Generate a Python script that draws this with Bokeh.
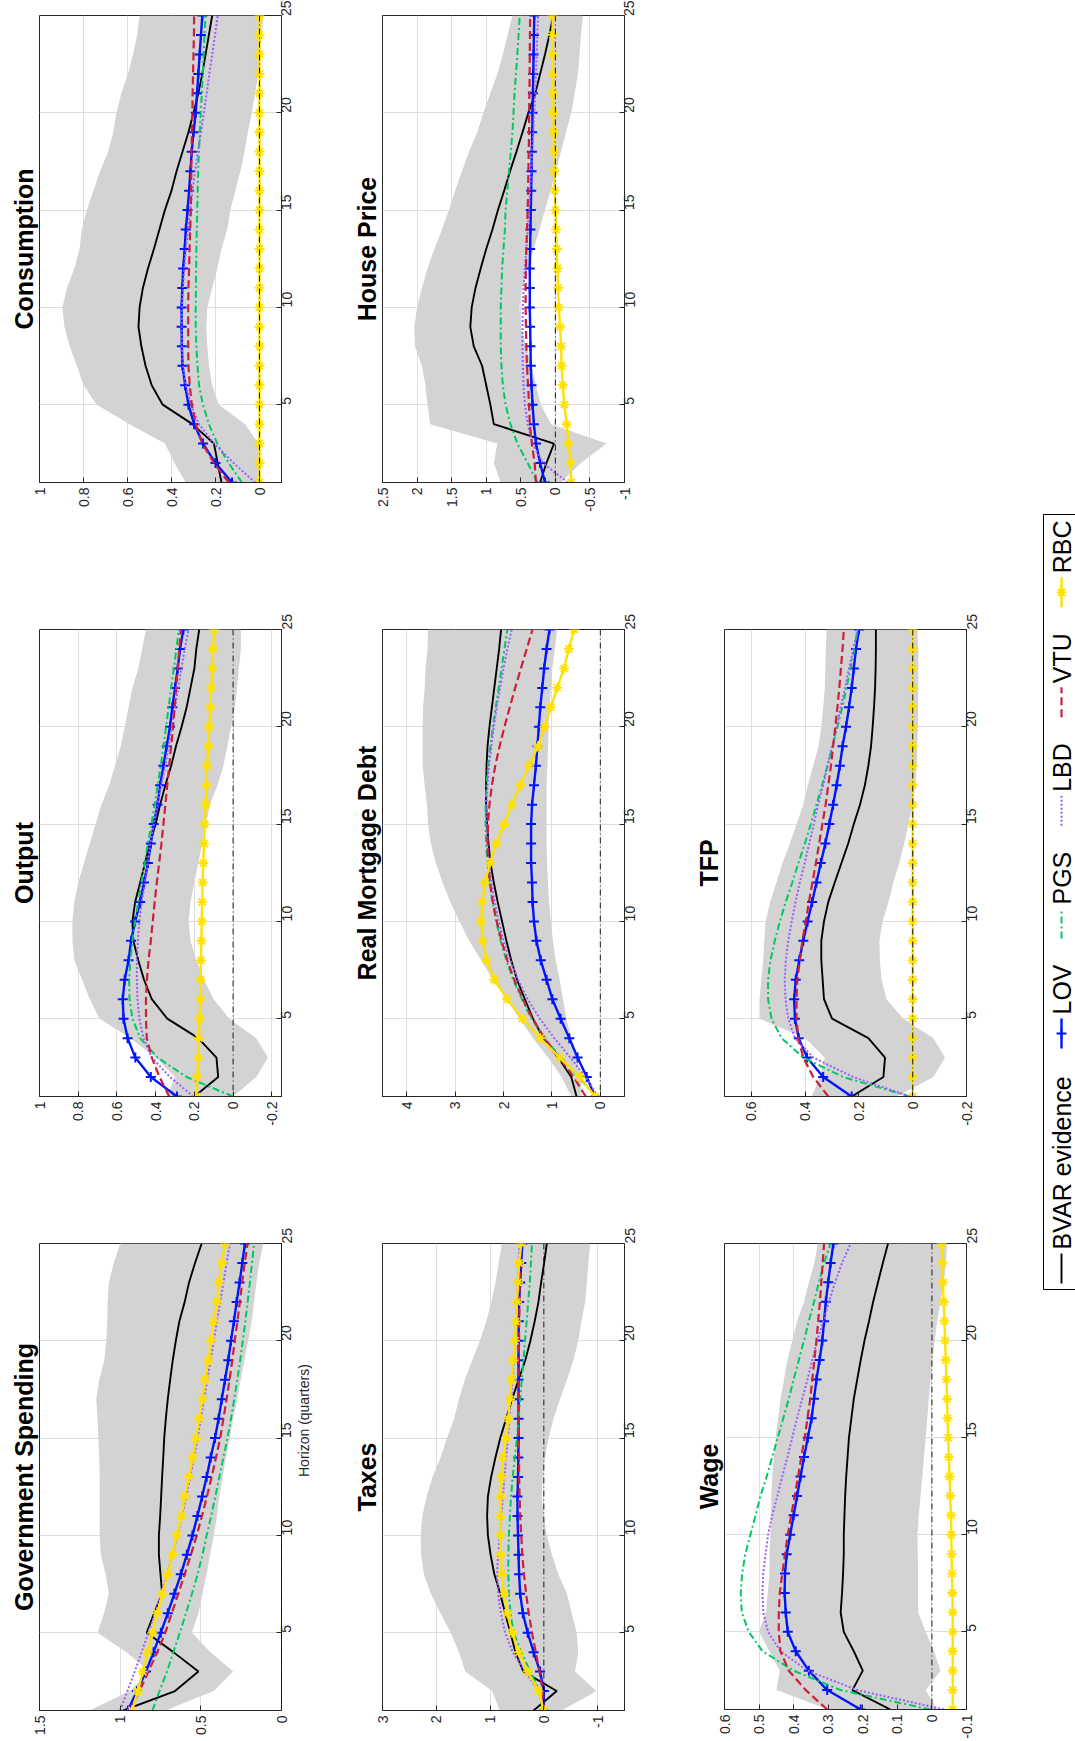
import math
from bokeh.plotting import figure
from bokeh.models import Range1d, FixedTicker, CustomJSTickFormatter, Span, Title, Spacer
from bokeh.layouts import row, column
from bokeh.embed import file_html
from bokeh.resources import INLINE
from bokeh.core.properties import value

# ---------------- data ----------------
H = list(range(1, 26))
h_ticks = [5, 10, 15, 20, 25]
h_labels = ["5", "10", "15", "20", "25"]

series_names = ["BVAR evidence", "LOV", "PGS", "LBD", "VTU", "RBC"]

# Government Spending
gov_bvar = [0.98, 0.66, 0.515, 0.67, 0.835, 0.79, 0.74, 0.75, 0.76, 0.76, 0.752, 0.746, 0.74, 0.733, 0.727, 0.717, 0.705, 0.69, 0.674, 0.655, 0.633, 0.60, 0.573, 0.536, 0.495]
gov_hi = [1.19, 0.94, 0.82, 0.96, 1.14, 1.10, 1.07, 1.09, 1.12, 1.127, 1.127, 1.127, 1.127, 1.13, 1.135, 1.14, 1.148, 1.13, 1.098, 1.086, 1.08, 1.078, 1.07, 1.04, 1.0]
gov_lo = [0.72, 0.42, 0.30, 0.44, 0.556, 0.515, 0.49, 0.464, 0.443, 0.42, 0.40, 0.385, 0.365, 0.344, 0.32, 0.30, 0.274, 0.253, 0.23, 0.206, 0.185, 0.17, 0.155, 0.138, 0.113]
gov_lov = [0.952, 0.896, 0.84, 0.793, 0.748, 0.705, 0.664, 0.624, 0.587, 0.552, 0.521, 0.492, 0.464, 0.439, 0.412, 0.39, 0.37, 0.35, 0.33, 0.313, 0.295, 0.278, 0.26, 0.243, 0.227]
gov_pgs = [0.80, 0.756, 0.71, 0.67, 0.63, 0.592, 0.555, 0.52, 0.49, 0.464, 0.436, 0.41, 0.385, 0.36, 0.335, 0.313, 0.293, 0.274, 0.256, 0.24, 0.224, 0.21, 0.196, 0.183, 0.17]
gov_lbd = [1.0, 0.955, 0.91, 0.867, 0.825, 0.785, 0.747, 0.71, 0.677, 0.645, 0.617, 0.59, 0.565, 0.542, 0.52, 0.5, 0.48, 0.46, 0.44, 0.42, 0.4, 0.38, 0.36, 0.34, 0.32]
gov_vtu = [0.94, 0.88, 0.825, 0.77, 0.72, 0.68, 0.64, 0.6, 0.562, 0.525, 0.493, 0.462, 0.433, 0.406, 0.38, 0.36, 0.34, 0.322, 0.305, 0.29, 0.273, 0.258, 0.244, 0.228, 0.21]
gov_rbc = [0.927, 0.89, 0.86, 0.83, 0.80, 0.77, 0.74, 0.705, 0.676, 0.65, 0.62, 0.6, 0.573, 0.55, 0.53, 0.51, 0.49, 0.474, 0.453, 0.437, 0.42, 0.40, 0.387, 0.37, 0.35]
gov_ticks = [0, 0.5, 1, 1.5]
gov_tick_labels = ["0", "0.5", "1", "1.5"]

# Output
out_bvar = [0.20, 0.077, 0.086, 0.18, 0.34, 0.42, 0.46, 0.49, 0.515, 0.52, 0.506, 0.48, 0.455, 0.43, 0.40, 0.377, 0.35, 0.32, 0.295, 0.266, 0.24, 0.22, 0.20, 0.19, 0.175]
out_hi = [0.34, 0.30, 0.40, 0.53, 0.69, 0.74, 0.78, 0.82, 0.83, 0.83, 0.82, 0.80, 0.77, 0.74, 0.71, 0.68, 0.64, 0.61, 0.58, 0.56, 0.54, 0.52, 0.49, 0.47, 0.45]
out_lo = [0.0, -0.12, -0.18, -0.12, 0.02, 0.1, 0.15, 0.19, 0.22, 0.23, 0.22, 0.2, 0.18, 0.16, 0.14, 0.12, 0.08, 0.05, 0.03, 0.01, -0.01, -0.02, -0.03, -0.04, -0.04]
out_lov = [0.29, 0.425, 0.505, 0.545, 0.566, 0.57, 0.56, 0.54, 0.527, 0.506, 0.48, 0.46, 0.44, 0.425, 0.41, 0.39, 0.377, 0.36, 0.343, 0.326, 0.314, 0.30, 0.286, 0.274, 0.257]
out_pgs = [0.0, 0.24, 0.39, 0.48, 0.52, 0.535, 0.537, 0.53, 0.52, 0.506, 0.49, 0.474, 0.457, 0.44, 0.422, 0.405, 0.389, 0.374, 0.36, 0.346, 0.333, 0.32, 0.306, 0.293, 0.28]
out_lbd = [0.205, 0.326, 0.42, 0.463, 0.484, 0.494, 0.497, 0.497, 0.492, 0.484, 0.472, 0.455, 0.44, 0.428, 0.41, 0.39, 0.372, 0.35, 0.333, 0.317, 0.3, 0.283, 0.267, 0.25, 0.23]
out_vtu = [0.33, 0.38, 0.42, 0.446, 0.45, 0.45, 0.445, 0.437, 0.425, 0.415, 0.405, 0.394, 0.382, 0.37, 0.36, 0.35, 0.34, 0.33, 0.32, 0.31, 0.302, 0.294, 0.286, 0.278, 0.27]
out_rbc = [0.19, 0.185, 0.18, 0.177, 0.173, 0.17, 0.168, 0.166, 0.164, 0.162, 0.16, 0.157, 0.154, 0.15, 0.146, 0.142, 0.138, 0.134, 0.128, 0.123, 0.118, 0.113, 0.108, 0.103, 0.098]
out_ticks = [-0.2, 0, 0.2, 0.4, 0.6, 0.8, 1]
out_tick_labels = ["-0.2", "0", "0.2", "0.4", "0.6", "0.8", "1"]

# Consumption
con_bvar = [0.173, 0.19, 0.207, 0.305, 0.44, 0.49, 0.518, 0.537, 0.55, 0.545, 0.53, 0.507, 0.48, 0.455, 0.43, 0.40, 0.377, 0.35, 0.323, 0.30, 0.278, 0.26, 0.245, 0.23, 0.215]
con_hi = [0.335, 0.387, 0.43, 0.59, 0.74, 0.80, 0.83, 0.863, 0.887, 0.896, 0.875, 0.842, 0.818, 0.808, 0.785, 0.755, 0.725, 0.688, 0.665, 0.65, 0.628, 0.598, 0.575, 0.556, 0.545]
con_lo = [0.005, -0.01, 0.005, 0.065, 0.185, 0.215, 0.23, 0.237, 0.242, 0.237, 0.215, 0.192, 0.173, 0.147, 0.132, 0.11, 0.087, 0.068, 0.053, 0.035, 0.02, 0.005, -0.003, -0.01, -0.018]
con_lov = [0.125, 0.2, 0.257, 0.297, 0.323, 0.338, 0.35, 0.353, 0.354, 0.354, 0.351, 0.347, 0.34, 0.335, 0.327, 0.32, 0.314, 0.308, 0.3, 0.29, 0.284, 0.278, 0.272, 0.266, 0.26]
con_pgs = [0.08, 0.14, 0.192, 0.23, 0.257, 0.275, 0.282, 0.287, 0.29, 0.29, 0.289, 0.288, 0.287, 0.285, 0.283, 0.281, 0.279, 0.275, 0.271, 0.267, 0.262, 0.258, 0.254, 0.25, 0.245]
con_lbd = [0.02, 0.117, 0.207, 0.275, 0.312, 0.335, 0.347, 0.353, 0.354, 0.353, 0.348, 0.342, 0.335, 0.325, 0.315, 0.304, 0.293, 0.28, 0.266, 0.253, 0.24, 0.228, 0.215, 0.202, 0.19]
con_vtu = [0.14, 0.207, 0.26, 0.29, 0.308, 0.317, 0.323, 0.324, 0.324, 0.324, 0.323, 0.32, 0.318, 0.315, 0.312, 0.311, 0.31, 0.309, 0.307, 0.305, 0.304, 0.302, 0.3, 0.298, 0.297]
con_rbc = [0.0, 0.0, 0.0, 0.0, 0.0, 0.0, 0.0, 0.0, 0.0, 0.0, 0.0, 0.0, 0.0, 0.0, 0.0, 0.0, 0.0, 0.0, 0.0, 0.0, 0.0, 0.0, 0.0, 0.0, 0.0]
con_ticks = [0, 0.2, 0.4, 0.6, 0.8, 1]
con_tick_labels = ["0", "0.2", "0.4", "0.6", "0.8", "1"]

# Taxes
tax_bvar = [0.19, -0.24, 0.38, 0.53, 0.62, 0.72, 0.81, 0.92, 0.99, 1.04, 1.055, 1.04, 0.98, 0.9, 0.81, 0.7, 0.59, 0.47, 0.345, 0.25, 0.17, 0.1, 0.05, -0.006, -0.055]
tax_hi = [0.82, 0.96, 1.46, 1.58, 1.73, 1.92, 2.1, 2.23, 2.28, 2.29, 2.26, 2.18, 2.07, 1.92, 1.8, 1.67, 1.58, 1.47, 1.33, 1.19, 1.07, 0.975, 0.9, 0.84, 0.78]
tax_lo = [-0.33, -0.98, -0.58, -0.64, -0.61, -0.52, -0.43, -0.27, -0.15, -0.056, 0.0, 0.04, 0.02, -0.02, -0.09, -0.18, -0.3, -0.43, -0.55, -0.64, -0.7, -0.77, -0.8, -0.83, -0.86]
tax_lov = [0.0, 0.0, 0.07, 0.19, 0.3, 0.39, 0.44, 0.46, 0.47, 0.48, 0.49, 0.49, 0.48, 0.475, 0.47, 0.47, 0.47, 0.47, 0.47, 0.47, 0.465, 0.46, 0.44, 0.42, 0.40]
tax_pgs = [0.02, 0.08, 0.25, 0.42, 0.56, 0.62, 0.65, 0.66, 0.66, 0.65, 0.63, 0.61, 0.58, 0.54, 0.5, 0.47, 0.44, 0.41, 0.38, 0.35, 0.32, 0.29, 0.26, 0.24, 0.22]
tax_lbd = [0.0, 0.1, 0.35, 0.58, 0.72, 0.8, 0.85, 0.87, 0.85, 0.82, 0.79, 0.76, 0.73, 0.7, 0.67, 0.64, 0.61, 0.58, 0.56, 0.54, 0.52, 0.5, 0.48, 0.47, 0.45]
tax_vtu = [0.0, 0.02, 0.08, 0.15, 0.22, 0.28, 0.33, 0.37, 0.4, 0.42, 0.44, 0.45, 0.46, 0.46, 0.47, 0.47, 0.47, 0.47, 0.47, 0.46, 0.46, 0.45, 0.45, 0.44, 0.43]
tax_rbc = [0.0, 0.1, 0.3, 0.46, 0.59, 0.68, 0.74, 0.78, 0.8, 0.81, 0.81, 0.8, 0.79, 0.76, 0.7, 0.66, 0.63, 0.6, 0.57, 0.54, 0.52, 0.5, 0.48, 0.46, 0.42]
tax_ticks = [-1, 0, 1, 2, 3]
tax_tick_labels = ["-1", "0", "1", "2", "3"]

# Real Mortgage Debt
rmd_bvar = [0.49, 0.6, 0.87, 1.18, 1.39, 1.56, 1.72, 1.84, 1.94, 2.03, 2.12, 2.2, 2.27, 2.31, 2.34, 2.36, 2.36, 2.35, 2.33, 2.29, 2.24, 2.19, 2.14, 2.09, 2.05]
rmd_hi = [0.6, 0.8, 1.08, 1.39, 1.67, 1.94, 2.22, 2.46, 2.71, 2.91, 3.1, 3.26, 3.4, 3.5, 3.56, 3.58, 3.63, 3.67, 3.67, 3.67, 3.66, 3.63, 3.61, 3.57, 3.56]
rmd_lo = [0.39, 0.39, 0.49, 0.6, 0.7, 0.77, 0.84, 0.92, 0.98, 1.02, 1.06, 1.08, 1.1, 1.11, 1.11, 1.11, 1.11, 1.09, 1.08, 1.07, 1.05, 1.02, 0.99, 0.94, 0.89]
rmd_lov = [0.11, 0.28, 0.47, 0.64, 0.82, 0.99, 1.11, 1.23, 1.32, 1.37, 1.4, 1.41, 1.43, 1.43, 1.43, 1.41, 1.37, 1.33, 1.3, 1.27, 1.24, 1.2, 1.16, 1.11, 1.05]
rmd_pgs = [0.1, 0.45, 0.82, 1.15, 1.42, 1.62, 1.8, 1.94, 2.06, 2.15, 2.23, 2.29, 2.33, 2.36, 2.37, 2.37, 2.35, 2.32, 2.27, 2.22, 2.16, 2.1, 2.04, 1.98, 1.92]
rmd_lbd = [0.05, 0.3, 0.62, 0.95, 1.25, 1.5, 1.7, 1.86, 2.0, 2.1, 2.18, 2.25, 2.3, 2.33, 2.35, 2.35, 2.33, 2.3, 2.25, 2.2, 2.14, 2.07, 2.0, 1.92, 1.83]
rmd_vtu = [0.3, 0.55, 0.85, 1.15, 1.4, 1.6, 1.78, 1.92, 2.04, 2.14, 2.22, 2.28, 2.32, 2.33, 2.32, 2.29, 2.24, 2.17, 2.08, 1.98, 1.87, 1.76, 1.64, 1.52, 1.4]
rmd_rbc = [0.11, 0.42, 0.84, 1.24, 1.61, 1.92, 2.19, 2.35, 2.43, 2.46, 2.44, 2.38, 2.28, 2.15, 1.99, 1.83, 1.65, 1.47, 1.29, 1.15, 1.02, 0.89, 0.75, 0.65, 0.54]
rmd_ticks = [0, 1, 2, 3, 4]
rmd_tick_labels = ["0", "1", "2", "3", "4"]

# House Price
hp_bvar = [0.22, 0.13, 0.02, 0.89, 0.94, 1.0, 1.06, 1.18, 1.23, 1.21, 1.155, 1.08, 1.0, 0.91, 0.83, 0.74, 0.655, 0.563, 0.475, 0.39, 0.29, 0.22, 0.15, 0.087, 0.03]
hp_hi = [0.79, 0.89, 0.84, 1.81, 1.85, 1.88, 1.93, 2.03, 2.04, 2.0, 1.93, 1.85, 1.75, 1.64, 1.54, 1.45, 1.35, 1.25, 1.13, 1.04, 0.94, 0.84, 0.76, 0.69, 0.62]
hp_lo = [-0.08, -0.37, -0.74, 0.06, 0.21, 0.28, 0.345, 0.42, 0.5, 0.52, 0.48, 0.4, 0.315, 0.23, 0.15, 0.07, -0.01, -0.08, -0.155, -0.23, -0.28, -0.325, -0.35, -0.37, -0.4]
hp_lov = [0.15, 0.22, 0.28, 0.31, 0.33, 0.345, 0.355, 0.36, 0.365, 0.37, 0.37, 0.37, 0.365, 0.36, 0.355, 0.35, 0.345, 0.34, 0.335, 0.33, 0.325, 0.32, 0.315, 0.31, 0.305]
hp_pgs = [0.26, 0.4, 0.55, 0.65, 0.72, 0.76, 0.78, 0.79, 0.79, 0.79, 0.78, 0.77, 0.75, 0.73, 0.72, 0.695, 0.67, 0.645, 0.62, 0.605, 0.59, 0.57, 0.55, 0.532, 0.515]
hp_lbd = [-0.18, 0.18, 0.33, 0.4, 0.44, 0.46, 0.47, 0.475, 0.475, 0.47, 0.46, 0.44, 0.42, 0.4, 0.38, 0.365, 0.35, 0.335, 0.32, 0.305, 0.29, 0.28, 0.27, 0.26, 0.25]
hp_vtu = [0.28, 0.3, 0.34, 0.37, 0.38, 0.395, 0.41, 0.42, 0.425, 0.43, 0.43, 0.425, 0.42, 0.41, 0.4, 0.395, 0.39, 0.385, 0.38, 0.38, 0.375, 0.372, 0.37, 0.367, 0.365]
hp_rbc = [-0.23, -0.22, -0.19, -0.165, -0.13, -0.107, -0.09, -0.083, -0.068, -0.05, -0.04, -0.03, -0.02, -0.01, 0.0, 0.01, 0.015, 0.02, 0.025, 0.028, 0.031, 0.034, 0.036, 0.038, 0.04]
hp_ticks = [-1, -0.5, 0, 0.5, 1, 1.5, 2, 2.5]
hp_tick_labels = ["-1", "-0.5", "0", "0.5", "1", "1.5", "2", "2.5"]

# Wage
wage_bvar = [0.12, 0.23, 0.2, 0.226, 0.255, 0.264, 0.26, 0.257, 0.255, 0.255, 0.253, 0.251, 0.248, 0.244, 0.24, 0.233, 0.226, 0.216, 0.206, 0.195, 0.182, 0.17, 0.156, 0.142, 0.127]
wage_hi = [0.3, 0.45, 0.44, 0.47, 0.5, 0.48, 0.475, 0.47, 0.47, 0.467, 0.466, 0.465, 0.462, 0.457, 0.452, 0.445, 0.438, 0.428, 0.418, 0.404, 0.39, 0.37, 0.356, 0.34, 0.33]
wage_lo = [-0.015, 0.018, -0.025, -0.006, 0.018, 0.04, 0.04, 0.04, 0.041, 0.042, 0.038, 0.033, 0.028, 0.023, 0.018, 0.0135, 0.009, 0.004, -0.002, -0.008, -0.015, -0.025, -0.035, -0.04, -0.044]
wage_lov = [0.206, 0.303, 0.356, 0.394, 0.417, 0.423, 0.426, 0.425, 0.42, 0.41, 0.4, 0.39, 0.38, 0.37, 0.359, 0.348, 0.341, 0.334, 0.325, 0.317, 0.312, 0.307, 0.3, 0.293, 0.285]
wage_pgs = [0.004, 0.264, 0.4, 0.49, 0.53, 0.55, 0.553, 0.549, 0.54, 0.525, 0.51, 0.496, 0.478, 0.462, 0.446, 0.43, 0.414, 0.4, 0.385, 0.37, 0.356, 0.341, 0.327, 0.312, 0.293]
wage_lbd = [-0.035, 0.216, 0.36, 0.438, 0.474, 0.488, 0.49, 0.488, 0.481, 0.474, 0.462, 0.447, 0.433, 0.418, 0.404, 0.39, 0.375, 0.36, 0.346, 0.332, 0.314, 0.298, 0.28, 0.26, 0.235]
wage_vtu = [0.303, 0.365, 0.414, 0.438, 0.443, 0.443, 0.44, 0.433, 0.425, 0.417, 0.407, 0.397, 0.387, 0.378, 0.368, 0.36, 0.352, 0.346, 0.34, 0.334, 0.329, 0.324, 0.32, 0.316, 0.312]
wage_rbc = [-0.06, -0.06, -0.06, -0.06, -0.06, -0.06, -0.059, -0.058, -0.057, -0.056, -0.055, -0.053, -0.051, -0.049, -0.047, -0.045, -0.044, -0.042, -0.04, -0.038, -0.036, -0.034, -0.032, -0.03, -0.028]
wage_ticks = [-0.1, 0, 0.1, 0.2, 0.3, 0.4, 0.5, 0.6]
wage_tick_labels = ["-0.1", "0", "0.1", "0.2", "0.3", "0.4", "0.5", "0.6"]

# TFP
tfp_bvar = [0.227, 0.109, 0.103, 0.165, 0.3, 0.33, 0.335, 0.34, 0.34, 0.33, 0.314, 0.29, 0.265, 0.24, 0.219, 0.196, 0.178, 0.165, 0.155, 0.149, 0.144, 0.14, 0.138, 0.137, 0.137]
tfp_hi = [0.376, 0.345, 0.327, 0.4, 0.57, 0.57, 0.563, 0.556, 0.552, 0.547, 0.53, 0.507, 0.484, 0.457, 0.432, 0.407, 0.39, 0.37, 0.35, 0.34, 0.333, 0.327, 0.325, 0.323, 0.32]
tfp_lo = [0.06, -0.077, -0.12, -0.077, 0.035, 0.097, 0.116, 0.122, 0.124, 0.112, 0.09, 0.072, 0.05, 0.032, 0.016, 0.0, -0.009, -0.015, -0.017, -0.019, -0.02, -0.021, -0.021, -0.021, -0.017]
tfp_lov = [0.227, 0.333, 0.393, 0.424, 0.438, 0.441, 0.435, 0.422, 0.407, 0.391, 0.374, 0.358, 0.342, 0.325, 0.31, 0.296, 0.283, 0.271, 0.261, 0.248, 0.237, 0.227, 0.219, 0.211, 0.2]
tfp_pgs = [0.01, 0.258, 0.407, 0.488, 0.525, 0.538, 0.538, 0.529, 0.513, 0.494, 0.472, 0.448, 0.425, 0.401, 0.379, 0.358, 0.337, 0.317, 0.298, 0.28, 0.262, 0.246, 0.231, 0.217, 0.205]
tfp_lbd = [0.01, 0.221, 0.37, 0.438, 0.463, 0.473, 0.476, 0.472, 0.463, 0.45, 0.436, 0.42, 0.402, 0.385, 0.368, 0.352, 0.333, 0.317, 0.3, 0.283, 0.268, 0.252, 0.237, 0.221, 0.205]
tfp_vtu = [0.314, 0.37, 0.407, 0.426, 0.432, 0.432, 0.429, 0.42, 0.41, 0.398, 0.386, 0.373, 0.36, 0.348, 0.336, 0.324, 0.314, 0.304, 0.296, 0.288, 0.28, 0.273, 0.267, 0.261, 0.256]
tfp_rbc = [0.0, 0.0, 0.0, 0.0, 0.0, 0.0, 0.0, 0.0, 0.0, 0.0, 0.0, 0.0, 0.0, 0.0, 0.0, 0.0, 0.0, 0.0, 0.0, 0.0, 0.0, 0.0, 0.0, 0.0, 0.0]
tfp_ticks = [-0.2, 0, 0.2, 0.4, 0.6]
tfp_tick_labels = ["-0.2", "0", "0.2", "0.4", "0.6"]

# ---------------- styles ----------------
FONT = "Liberation Sans"
AX = "#262626"
BAND = "#D3D3D3"
C_BVAR = "#000000"
C_LOV = "#0014FF"
C_PGS = "#00C864"
C_LBD = "#9B5CFF"
C_VTU = "#CC1F3A"
C_RBC = "#FFE100"
D_PGS = "7 3 2 3"
D_LBD = "2 2"
D_VTU = "8 4"
D_ZERO = "6 3 1 3"
TICK_FS = "14px"


def fmt(ticks, labels):
    return CustomJSTickFormatter(args=dict(t=ticks, l=labels), code="""
        for (let i = 0; i < t.length; i++) { if (Math.abs(t[i] - tick) < 1e-9) return l[i]; }
        return "";
    """)


def panel(title, vrange, vticks, vlabels, lo, hi, bvar, lov, pgs, lbd, vtu, rbc,
          width, height, bl, br, bt, bb, hlabel=None):
    p = figure(width=width, height=height, x_range=Range1d(vrange[1], vrange[0]),
               y_range=Range1d(1, 25), x_axis_location="below", y_axis_location="right",
               toolbar_location=None, output_backend="svg", title=None,
               min_border_left=bl, min_border_right=br, min_border_top=bt, min_border_bottom=bb)
    p.background_fill_color = "white"
    p.border_fill_color = "white"
    p.outline_line_color = AX
    p.outline_line_width = 1

    xt = FixedTicker(ticks=vticks)
    yt = FixedTicker(ticks=h_ticks)
    p.xaxis.ticker = xt
    p.yaxis.ticker = yt
    p.xgrid.ticker = xt
    p.ygrid.ticker = yt
    p.xaxis.formatter = fmt(vticks, vlabels)
    p.yaxis.formatter = fmt(h_ticks, h_labels)
    for ax in (p.xaxis[0], p.yaxis[0]):
        ax.major_label_orientation = math.pi / 2
        ax.major_label_text_font = FONT
        ax.major_label_text_font_size = TICK_FS
        ax.major_label_text_color = AX
        ax.major_tick_in = 5
        ax.major_tick_out = 0
        ax.minor_tick_line_color = None
        ax.axis_line_color = AX
        ax.major_tick_line_color = AX
        ax.major_label_standoff = 5
    for g in (p.xgrid[0], p.ygrid[0]):
        g.grid_line_color = "#DEDEDE"
        g.grid_line_width = 1
    if hlabel:
        p.yaxis.axis_label = hlabel
        p.yaxis.axis_label_text_font = FONT
        p.yaxis.axis_label_text_font_size = "14px"
        p.yaxis.axis_label_text_font_style = "normal"
        p.yaxis.axis_label_text_color = AX
        p.yaxis.axis_label_standoff = 4
        try:
            p.yaxis.axis_label_orientation = math.pi / 2
        except Exception:
            pass

    p.add_layout(Title(text=title, align="center", text_font=FONT, text_font_size="25px",
                       text_font_style="bold", text_color="black", standoff=3), "left")

    p.harea(y=H, x1=lo, x2=hi, fill_color=BAND, fill_alpha=1.0)
    p.add_layout(Span(location=0, dimension="height", line_color="black",
                      line_width=0.9, line_dash=D_ZERO))
    p.line(x=bvar, y=H, line_color=C_BVAR, line_width=1.9)
    p.line(x=lov, y=H, line_color=C_LOV, line_width=2.4)
    p.scatter(x=lov, y=H, marker="cross", size=10, line_color=C_LOV, line_width=2)
    p.line(x=pgs, y=H, line_color=C_PGS, line_width=2, line_dash=D_PGS)
    p.line(x=lbd, y=H, line_color=C_LBD, line_width=2, line_dash=D_LBD)
    p.line(x=vtu, y=H, line_color=C_VTU, line_width=2.2, line_dash=D_VTU)
    p.line(x=rbc, y=H, line_color=C_RBC, line_width=2.4)
    p.scatter(x=rbc, y=H, marker="asterisk", size=10, line_color=C_RBC, line_width=1.8)
    return p


# column 1 (x 0..340), column 2 (340..682), column 3 (682..1030)
W1, W2, W3 = 340, 342, 348
HA, HB, HC = 555, 615, 571

con = panel("Consumption", (-0.1, 1.0), con_ticks, con_tick_labels, con_lo, con_hi, con_bvar,
            con_lov, con_pgs, con_lbd, con_vtu, con_rbc, W1, HA, 39, 59, 15, 73)
out = panel("Output", (-0.25, 1.0), out_ticks, out_tick_labels, out_lo, out_hi, out_bvar,
            out_lov, out_pgs, out_lbd, out_vtu, out_rbc, W1, HB, 39, 59, 74, 74)
gov = panel("Government Spending", (0.0, 1.5), gov_ticks, gov_tick_labels, gov_lo, gov_hi, gov_bvar,
            gov_lov, gov_pgs, gov_lbd, gov_vtu, gov_rbc, W1, HC, 39, 59, 73, 31,
            hlabel="Horizon (quarters)")

hp = panel("House Price", (-1.0, 2.5), hp_ticks, hp_tick_labels, hp_lo, hp_hi, hp_bvar,
           hp_lov, hp_pgs, hp_lbd, hp_vtu, hp_rbc, W2, HA, 42, 58, 15, 73)
rmd = panel("Real Mortgage Debt", (-0.5, 4.5), rmd_ticks, rmd_tick_labels, rmd_lo, rmd_hi, rmd_bvar,
            rmd_lov, rmd_pgs, rmd_lbd, rmd_vtu, rmd_rbc, W2, HB, 42, 58, 74, 74)
tax = panel("Taxes", (-1.5, 3.0), tax_ticks, tax_tick_labels, tax_lo, tax_hi, tax_bvar,
            tax_lov, tax_pgs, tax_lbd, tax_vtu, tax_rbc, W2, HC, 42, 58, 73, 31)

tfp = panel("TFP", (-0.2, 0.7), tfp_ticks, tfp_tick_labels, tfp_lo, tfp_hi, tfp_bvar,
            tfp_lov, tfp_pgs, tfp_lbd, tfp_vtu, tfp_rbc, W3, HB, 42, 64, 74, 74)
wage = panel("Wage", (-0.1, 0.6), wage_ticks, wage_tick_labels, wage_lo, wage_hi, wage_bvar,
             wage_lov, wage_pgs, wage_lbd, wage_vtu, wage_rbc, W3, HC, 42, 64, 73, 31)

# ---------------- legend (rotated, drawn as glyphs) ----------------
LW, LH, LTOP = 45, 820, 490  # legend canvas: x 1030..1075, y 490..1310
leg = figure(width=LW, height=LH, x_range=Range1d(0, LW), y_range=Range1d(0, LH),
             toolbar_location=None, output_backend="svg", title=None,
             x_axis_type=None, y_axis_type=None, min_border=0)
leg.grid.visible = False
leg.outline_line_color = None
leg.background_fill_color = "white"
leg.border_fill_color = "white"

char_w = {'B': .667, 'V': .667, 'A': .667, 'R': .722, ' ': .278, 'e': .556, 'v': .5, 'i': .222,
          'd': .556, 'n': .556, 'c': .5, 'L': .556, 'O': .778, 'P': .667, 'G': .778, 'S': .667,
          'D': .722, 'T': .611, 'U': .722, 'C': .722}
LFS = 25
styles = [
    dict(color=C_BVAR, dash="solid", width=1.9, marker=None),
    dict(color=C_LOV, dash="solid", width=2.4, marker="cross"),
    dict(color=C_PGS, dash=D_PGS, width=2, marker=None),
    dict(color=C_LBD, dash=D_LBD, width=2, marker=None),
    dict(color=C_VTU, dash=D_VTU, width=2.2, marker=None),
    dict(color=C_RBC, dash="solid", width=2.4, marker="asterisk"),
]
box_bottom, box_top_target, pad, L, gap = 1289, 514, 6, 30, 4
text_total = sum(sum(char_w.get(ch, 0.55) for ch in n) * LFS for n in series_names)
sep = ((box_bottom - box_top_target) - 2 * pad - len(series_names) * (L + gap) - text_total) / (len(series_names) - 1)
XC = 31
Y = box_bottom - pad
for name, st in zip(series_names, styles):
    y0, y1 = LH - (Y - LTOP), LH - (Y - L - LTOP)
    leg.segment(x0=[XC], y0=[y0], x1=[XC], y1=[y1], line_color=st["color"],
                line_width=st["width"], line_dash=st["dash"])
    if st["marker"]:
        leg.scatter(x=[XC], y=[(y0 + y1) / 2], marker=st["marker"], size=10,
                    line_color=st["color"], line_width=1.8)
    Y -= L + gap
    leg.text(x=[XC], y=[LH - (Y - LTOP)], text=[name], angle=math.pi / 2,
             text_align="left", text_baseline="middle", text_font=value(FONT),
             text_font_size="%dpx" % LFS, text_color="black")
    w = sum(char_w.get(ch, 0.55) for ch in name) * LFS
    Y -= w + sep
leg.quad(left=[13], right=[90], bottom=[LH - (box_bottom - LTOP)], top=[LH - (box_top_target - LTOP)],
         fill_color=None, line_color="black", line_width=1)

col1 = column(con, out, gov)
col2 = column(hp, rmd, tax)
col3 = column(Spacer(width=W3, height=HA), tfp, wage)
col4 = column(Spacer(width=LW, height=LTOP), leg)
layout = row(col1, col2, col3, col4)

open("out.html", "w").write(file_html(layout, INLINE))
